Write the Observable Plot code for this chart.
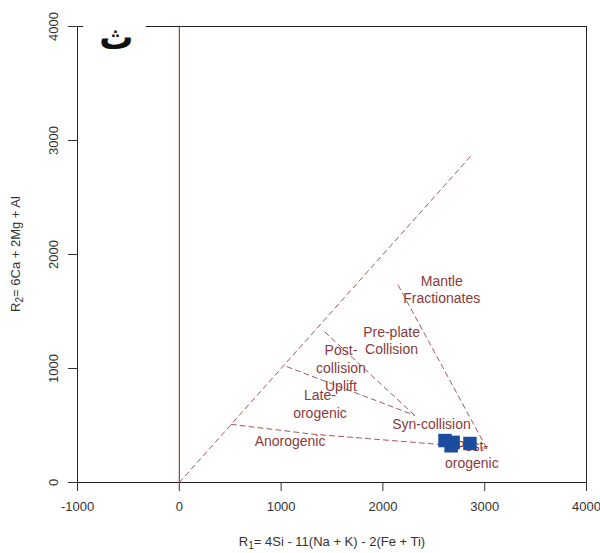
<!DOCTYPE html>
<html><head><meta charset="utf-8">
<script src="https://cdn.jsdelivr.net/npm/d3@7"></script>
<script src="https://cdn.jsdelivr.net/npm/@observablehq/plot@0.6"></script>
<style>body{margin:0;background:#fff} svg{display:block}</style>
</head><body><div id="chart"></div>
<script>
const xTicks = [-1000, 0, 1000, 2000, 3000, 4000];
const yTicks = [0, 1000, 2000, 3000, 4000];

// field boundary lines (R1, R2)
const boundaryId = ["diag", "diag", "anoro", "anoro", "anoro", "late", "late", "post", "post", "mantle", "mantle"];
const boundaryR1 = [0, 2860, 510, 1300, 3020, 1060, 2310, 1430, 2310, 2150, 3020];
const boundaryR2 = [0, 2860, 510, 425, 300, 1015, 590, 1320, 590, 1730, 300];

// field labels
const fieldLabels = ["Mantle", "Fractionates", "Pre-plate", "Collision", "Post-", "collision", "Uplift", "Late-", "orogenic", "Anorogenic", "Syn-collision", "Post-", "orogenic"];
const fieldR1 = [2578, 2578, 2085, 2085, 1588, 1588, 1588, 1382, 1382, 1088, 2477, 2873, 2873];
const fieldR2 = [1766, 1611, 1318, 1164, 1158, 997, 842, 763, 608, 360, 509, 316, 164];

// samples
const sampleR1 = [2610, 2690, 2670, 2855];
const sampleR2 = [368, 352, 322, 342];

const panelLetter = ["ث"];

const idx = d3.range(boundaryId.length);

const plot = Plot.plot({
  width: 600,
  height: 553,
  marginLeft: 77,
  marginRight: 14,
  marginTop: 26,
  marginBottom: 71,
  x: {domain: [-1000, 4000]},
  y: {domain: [0, 4000]},
  style: {fontFamily: "'Liberation Sans', Arial, sans-serif", fontSize: "13px", color: "#333", background: "#fff"},
  marks: [
    Plot.axisX({ticks: xTicks, tickSize: 9, tickPadding: 10, tickFormat: d => String(d), fontSize: 13, label: null}),
    Plot.axisY({ticks: yTicks, tickSize: 9, tickFormat: () => "", label: null}),
    Plot.text(yTicks, {x: -1000, y: d => d, text: d => String(d), rotate: -90, dx: -24, textAnchor: "middle", lineAnchor: "middle", fontSize: 13, fill: "#333"}),
    Plot.ruleX([-1000, 4000], {y1: 0, y2: 4000, stroke: "#222"}),
    Plot.ruleY([0], {x1: -1000, x2: 4000, stroke: "#222"}),
    Plot.ruleY([4000], {x1: -1000, x2: -940, stroke: "#222"}),
    Plot.ruleY([4000], {x1: -325, x2: 4000, stroke: "#222"}),
    Plot.ruleX([0], {y1: 0, y2: 4000, stroke: "#8b1a1a"}),
    Plot.line(idx, {x: i => boundaryR1[i], y: i => boundaryR2[i], z: i => boundaryId[i], stroke: "#a5555c", strokeDasharray: "5,4", strokeWidth: 1}),
    Plot.text(fieldLabels, {x: (d, i) => fieldR1[i], y: (d, i) => fieldR2[i], text: d => d, fill: "#8b3a3a", fontSize: 14, lineAnchor: "middle"}),
    Plot.dot(sampleR1, {x: d => d, y: (d, i) => sampleR2[i], symbol: "square", r: 7.6, fill: "#1c4c9e"}),
    Plot.text(panelLetter, {x: -618, y: 3900, text: d => d, fontSize: 34, fontWeight: "bold", fontFamily: "'DejaVu Sans', sans-serif", fill: "#111", lineAnchor: "middle"})
  ]
});

const svg = d3.select(plot);
const xt = svg.append("text")
  .attr("x", 332).attr("y", 546)
  .attr("text-anchor", "middle")
  .attr("font-size", 13).attr("fill", "#333");
xt.append("tspan").text("R");
xt.append("tspan").attr("font-size", 10).attr("dy", 3).text("1");
xt.append("tspan").attr("dy", -3).text("= 4Si - 11(Na + K) - 2(Fe + Ti)");

const yt = svg.append("text")
  .attr("transform", "translate(20,254) rotate(-90)")
  .attr("text-anchor", "middle")
  .attr("font-size", 13).attr("fill", "#333");
yt.append("tspan").text("R");
yt.append("tspan").attr("font-size", 10).attr("dy", 3).text("2");
yt.append("tspan").attr("dy", -3).text("= 6Ca + 2Mg + Al");

document.getElementById("chart").appendChild(plot);
</script>
</body></html>
